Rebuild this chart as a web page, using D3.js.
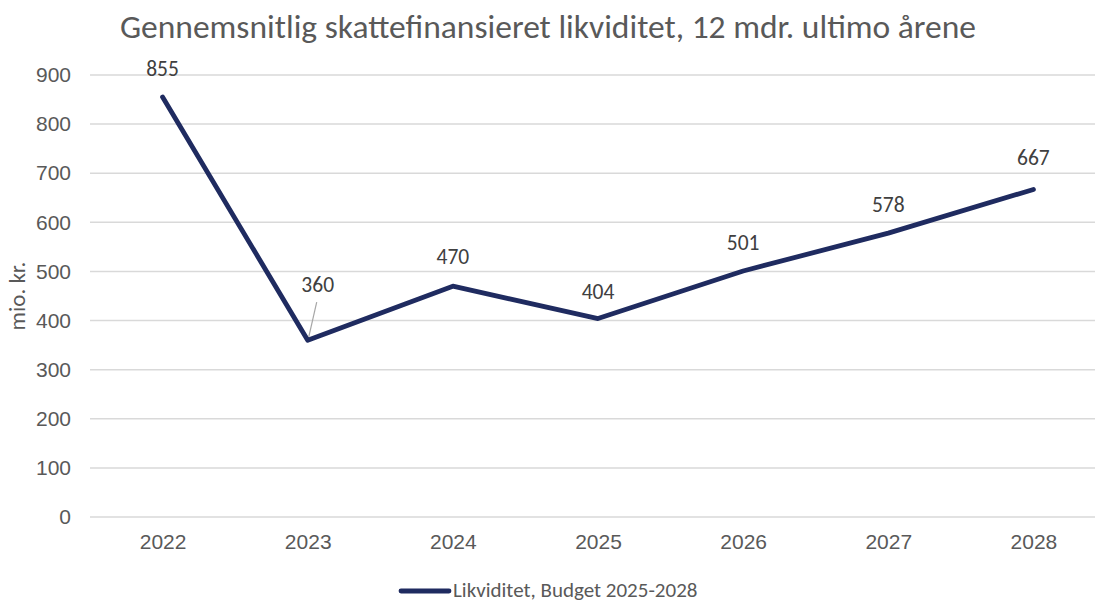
<!DOCTYPE html>
<html>
<head>
<meta charset="utf-8">
<script src="https://cdn.jsdelivr.net/npm/d3@7"></script>
<style>
  body { margin: 0; background: #ffffff; }
  svg { display: block; font-family: Calibri, Carlito, "Open Sans", "Liberation Sans", sans-serif; }
</style>
</head>
<body>
<div id="chart"></div>
<script>
// Data
const years = ['2022', '2023', '2024', '2025', '2026', '2027', '2028'];
const values = [855, 360, 470, 404, 501, 578, 667];
const yTicks = [0, 100, 200, 300, 400, 500, 600, 700, 800, 900];
const seriesName = 'Likviditet, Budget 2025-2028';

const W = 1095, H = 603;
const margin = { top: 75, right: -11, bottom: 86, left: 90 };
const lineColor = '#1F2B60';
const textColor = '#595959';

const svg = d3.select('#chart')
  .append('svg')
  .attr('width', W)
  .attr('height', H);

// Scales
const x = d3.scalePoint()
  .domain(years)
  .range([margin.left, W - margin.right])
  .padding(0.5);

const y = d3.scaleLinear()
  .domain([0, 900])
  .range([H - margin.bottom, margin.top]);

// Title
svg.append('text')
  .attr('x', 548)
  .attr('y', 38)
  .attr('text-anchor', 'middle')
  .style('fill', textColor)
  .style('font-size', '33.5px')
  .text('Gennemsnitlig skattefinansieret likviditet, 12 mdr. ultimo årene');

// Gridlines
svg.append('g')
  .selectAll('line')
  .data(yTicks)
  .enter()
  .append('line')
  .attr('x1', margin.left)
  .attr('x2', W - margin.right)
  .attr('y1', d => y(d))
  .attr('y2', d => y(d))
  .style('stroke', '#d9d9d9')
  .style('stroke-width', 1.5);

// Y axis labels
const yAxis = svg.append('g')
  .attr('transform', `translate(${margin.left - 19},0)`)
  .call(d3.axisLeft(y).tickValues(yTicks).tickSize(0).tickPadding(0));
yAxis.select('.domain').remove();
yAxis.selectAll('text')
  .style('fill', textColor)
  .style('font-size', '21px')
  .style('font-family', 'inherit');

// X axis labels
const xAxis = svg.append('g')
  .attr('transform', `translate(0,${y(0) + 17})`)
  .call(d3.axisBottom(x).tickSize(0).tickPadding(0));
xAxis.select('.domain').remove();
xAxis.selectAll('text')
  .style('fill', textColor)
  .style('font-size', '21px')
  .style('font-family', 'inherit');

// Y axis title
svg.append('text')
  .attr('transform', `translate(25,${(y(0) + y(900)) / 2}) rotate(-90)`)
  .attr('text-anchor', 'middle')
  .style('fill', textColor)
  .style('font-size', '23px')
  .text('mio. kr.');

// Line
const line = d3.line()
  .x((d, i) => x(years[i]))
  .y(d => y(d));

svg.append('path')
  .datum(values)
  .attr('d', line)
  .style('fill', 'none')
  .style('stroke', lineColor)
  .style('stroke-width', 4.8)
  .style('stroke-linejoin', 'round')
  .style('stroke-linecap', 'round');

// Leader line for the 2023 label
svg.append('line')
  .attr('x1', x('2023') + 1)
  .attr('y1', y(values[1]) - 3)
  .attr('x2', x('2023') + 9)
  .attr('y2', y(values[1]) - 38)
  .style('stroke', '#a6a6a6')
  .style('stroke-width', 1.2);

// Data labels
const labelOffsets = [28, 55, 29, 27, 28, 28, 31];
svg.append('g')
  .selectAll('text')
  .data(values)
  .enter()
  .append('text')
  .attr('x', (d, i) => x(years[i]) + (i === 1 ? 10 : 0))
  .attr('y', (d, i) => y(d) - labelOffsets[i] + 7)
  .attr('text-anchor', 'middle')
  .style('fill', '#404040')
  .style('font-size', '21.5px')
  .text(d => d);

// Legend
const legend = svg.append('g');
legend.append('line')
  .attr('x1', 401)
  .attr('x2', 449)
  .attr('y1', 591)
  .attr('y2', 591)
  .style('stroke', lineColor)
  .style('stroke-width', 4.8)
  .style('stroke-linecap', 'round');
legend.append('text')
  .attr('x', 453)
  .attr('y', 597)
  .style('fill', textColor)
  .style('font-size', '21px')
  .text(seriesName);
</script>
</body>
</html>
